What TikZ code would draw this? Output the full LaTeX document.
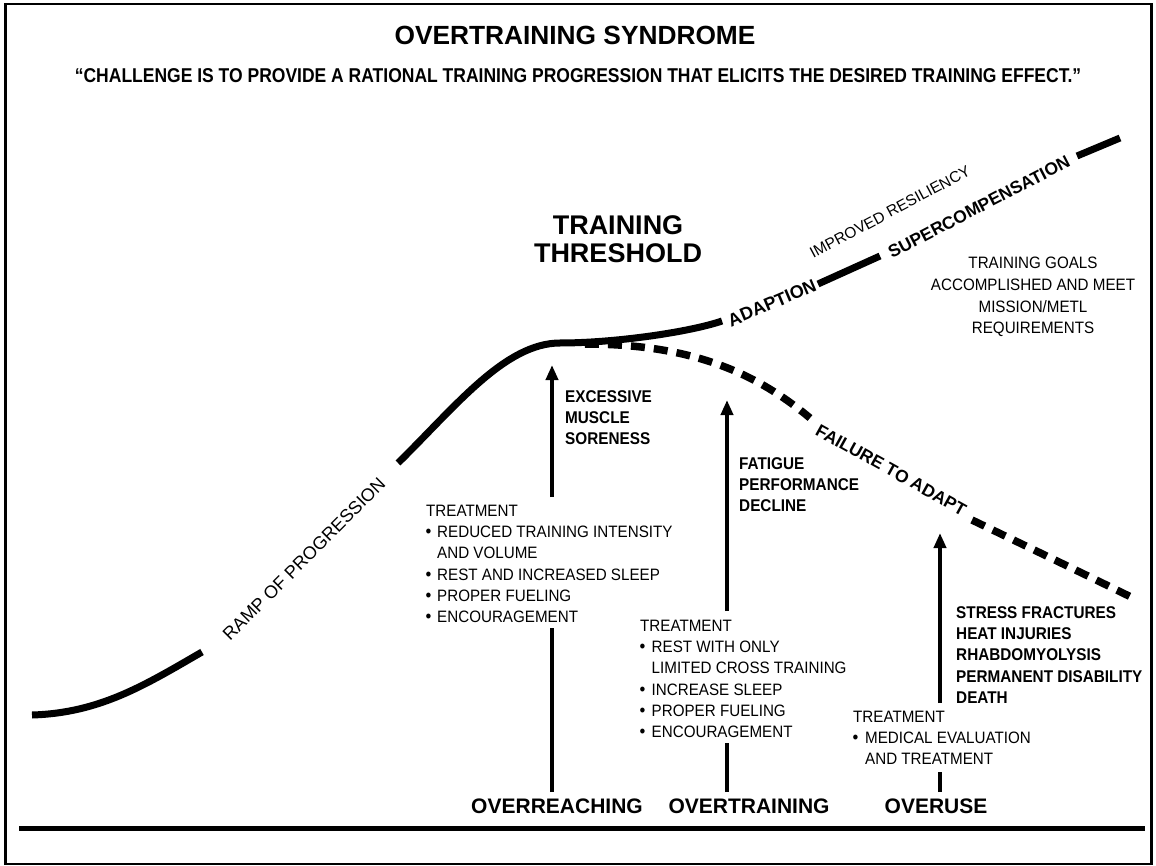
\documentclass[tikz,border=0pt]{standalone}
\usepackage{fontspec}
\setmainfont{Liberation Sans}
\newfontfamily\subfont[FakeStretch=0.875]{Liberation Sans}
\newfontfamily\boldcond[FakeStretch=0.9]{Liberation Sans}
\newfontfamily\regcond[FakeStretch=0.92]{Liberation Sans}
\usetikzlibrary{arrows.meta}
\newcommand{\bul}[1]{\makebox[#1][l]{\hspace{-0.5pt}{\fontsize{18}{18}\selectfont\textbullet}}}
\begin{document}
\begin{tikzpicture}[x=1pt,y=-1pt,
 curve/.style={line width=7pt},
 dcurve/.style={line width=7.5pt,dash pattern=on 14pt off 9pt},
 shaft/.style={line width=4pt},
 arr/.style={line width=4pt,-{Triangle[length=15pt,width=12pt]}},
 ttl/.style={inner sep=0pt,anchor=base,font=\bfseries\fontsize{26.3}{30}\selectfont},
 sub/.style={inner sep=0pt,anchor=base,font=\subfont\bfseries\fontsize{20}{24}\selectfont},
 big/.style={inner sep=0pt,anchor=north,align=center,font=\bfseries\fontsize{27}{28}\selectfont},
 lab/.style={inner sep=0pt,anchor=base,font=\bfseries\fontsize{21}{25}\selectfont},
 regblock/.style={inner sep=0pt,anchor=north west,align=left,font=\regcond\fontsize{16.5}{21.2}\selectfont},
 goalblock/.style={inner sep=0pt,anchor=north,align=center,font=\regcond\fontsize{16.5}{21.7}\selectfont},
 boldblock/.style={inner sep=0pt,anchor=north west,align=left,font=\boldcond\bfseries\fontsize{17}{21.4}\selectfont},
 curvelab/.style={inner sep=0pt,font=\bfseries\fontsize{18}{18}\selectfont},
 curvereg/.style={inner sep=0pt,font=\fontsize{18}{18}\selectfont}
]
\useasboundingbox (0,0) rectangle (1156,866);
% frame
\draw[line width=2.5pt] (5.5,4) rectangle (1151.5,864);
% title
\node[ttl] (title) at (575,45) {OVERTRAINING SYNDROME};
\node[sub] (subtitle) at (578,83) {“CHALLENGE IS TO PROVIDE A RATIONAL TRAINING PROGRESSION THAT ELICITS THE DESIRED TRAINING EFFECT.”};
% main curve
\draw[curve] (32,715) .. controls (100,713) and (145,685) .. (202,652);
\draw[curve] (398,463) .. controls (455,407) and (505,343) .. (560,343)
             .. controls (615,343) and (690,332) .. (722,321);
\draw[curve] (818,284) -- (880,256);
\draw[curve] (1077,156) -- (1120,138);
% dashed branch
\draw[dcurve] (585,344) .. controls (690,344) and (755,372) .. (810,418);
\draw[dcurve] (972,520) .. controls (1030,548) and (1080,572) .. (1133,598);
% curve labels
\node[curvereg,rotate=45] (ramp) at (304,559) {RAMP OF PROGRESSION};
\node[curvelab,rotate=23] (adapt) at (772,303) {ADAPTION};
\node[curvelab,rotate=27.5,font=\bfseries\fontsize{17.5}{18}\selectfont] (super) at (979,207) {SUPERCOMPENSATION};
\node[curvereg,rotate=28,font=\fontsize{15.5}{16}\selectfont] (resil) at (890,212) {IMPROVED RESILIENCY};
\node[curvelab,rotate=-29,font=\bfseries\fontsize{17.5}{18}\selectfont] (fail) at (891,470) {FAILURE TO ADAPT};
% threshold
\node[big] (thr) at (618,215) {TRAINING\\THRESHOLD};
% goals
\node[goalblock] (goals) at (1033,257) {TRAINING GOALS\\ACCOMPLISHED AND MEET\\MISSION/METL\\REQUIREMENTS};
% symptom blocks
\node[boldblock] (sym1) at (565,390) {EXCESSIVE\\MUSCLE\\SORENESS};
\node[boldblock] (sym2) at (739,457) {FATIGUE\\PERFORMANCE\\DECLINE};
\node[boldblock] (sym3) at (956,606) {STRESS FRACTURES\\HEAT INJURIES\\RHABDOMYOLYSIS\\PERMANENT DISABILITY\\DEATH};
% treatment blocks
\node[regblock] (tr1) at (426,505) {TREATMENT\\
\bul{11pt}REDUCED TRAINING INTENSITY\\
\hspace*{11pt}AND VOLUME\\
\bul{11pt}REST AND INCREASED SLEEP\\
\bul{11pt}PROPER FUELING\\
\bul{11pt}ENCOURAGEMENT};
\node[regblock] (tr2) at (640,620) {TREATMENT\\
\bul{11.5pt}REST WITH ONLY\\
\hspace*{11.5pt}LIMITED CROSS TRAINING\\
\bul{11.5pt}INCREASE SLEEP\\
\bul{11.5pt}PROPER FUELING\\
\bul{11.5pt}ENCOURAGEMENT};
\node[regblock] (tr3) at (853,711) {TREATMENT\\
\bul{12pt}MEDICAL EVALUATION\\
\hspace*{12pt}AND TREATMENT};
% bottom labels
\node[lab] (l1) at (557,813) {OVERREACHING};
\node[lab] (l2) at (749,813) {OVERTRAINING};
\node[lab] (l3) at (936,813) {OVERUSE};
% axis
\coordinate (axL) at (19,828);
\coordinate (axR) at (1145,828);
\draw[line width=5pt] (axL) -- (axR);
% arrows
\coordinate (a1tip) at (552,365);
\coordinate (a1top) at (552,497);
\coordinate (a1low) at (552,628);
\coordinate (a1bot) at (552,792);
\coordinate (a2tip) at (727,400);
\coordinate (a2top) at (727,611);
\coordinate (a2low) at (727,743);
\coordinate (a2bot) at (727,792);
\coordinate (a3tip) at (940,533);
\coordinate (a3top) at (940,703);
\coordinate (a3low) at (940,772);
\coordinate (a3bot) at (940,792);
\draw[arr] (a1top) -- (a1tip);
\draw[shaft] (a1bot) -- (a1low);
\draw[arr] (a2top) -- (a2tip);
\draw[shaft] (a2bot) -- (a2low);
\draw[arr] (a3top) -- (a3tip);
\draw[shaft] (a3bot) -- (a3low);
\end{tikzpicture}
\end{document}
